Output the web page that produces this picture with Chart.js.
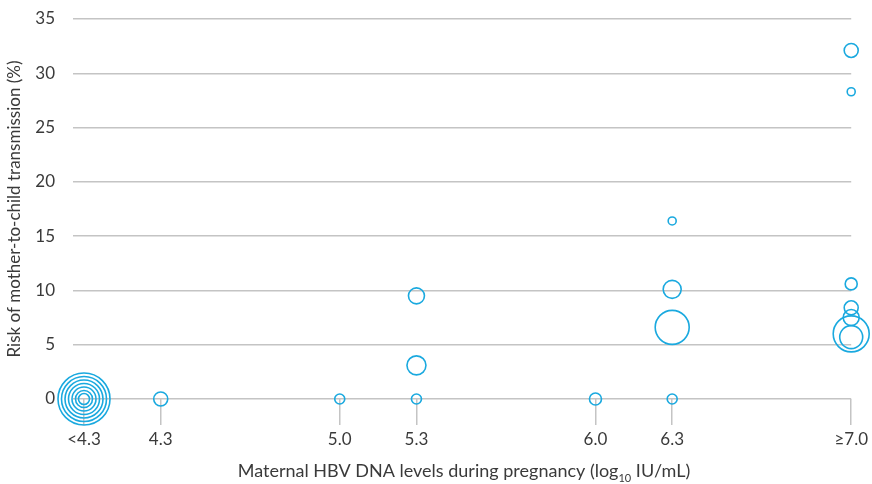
<!DOCTYPE html>
<html>
<head>
<meta charset="utf-8">
<script src="https://cdn.jsdelivr.net/npm/chart.js@4/dist/chart.umd.min.js"></script>
<style>
  html, body { margin: 0; padding: 0; background: #fff; }
  #wrap { width: 872px; height: 484px; }
</style>
</head>
<body>
<div id="wrap"><canvas id="chart-mtct"></canvas></div>
<script>
// Ejes
const xTicks = [4.0, 4.3, 5.0, 5.3, 6.0, 6.3, 7.0];
const xTickLabels = ['<4.3', '4.3', '5.0', '5.3', '6.0', '6.3', '≥7.0'];
const yTicks = [0, 5, 10, 15, 20, 25, 30, 35];

// Estudios: nivel de ADN del VHB, riesgo (%) y tamaño de burbuja
const hbvLevel = [4.0, 4.0, 4.0, 4.0, 4.0, 4.0, 4.0,
                  4.3,
                  5.0,
                  5.3, 5.3, 5.3,
                  6.0,
                  6.3, 6.3, 6.3, 6.3,
                  7.0, 7.0, 7.0, 7.0, 7.0, 7.0, 7.0];
const riskPct = [0, 0, 0, 0, 0, 0, 0,
                 0,
                 0,
                 9.5, 3.1, 0,
                 0,
                 16.4, 10.1, 6.6, 0,
                 32.1, 28.3, 10.6, 8.4, 7.5, 6.0, 5.7];
const studySize = [26, 22.5, 19, 15.5, 12, 8.5, 5.5,
                   7,
                   5,
                   8, 9.5, 5,
                   6,
                   4, 9, 17, 5,
                   7, 4, 6, 7, 8, 18, 11.5];

const blue = '#1aa9df';
const gridGray = '#c4c4c4';
const textGray = '#3a3a3a';
const fontFamily = 'Lato, "Open Sans", sans-serif';

// Titulo del eje x con subindice
const xTitlePlugin = {
    id: 'xTitle',
    afterDraw(chart) {
        const ctx = chart.ctx;
        const parts = [
            { t: 'Maternal HBV DNA levels during pregnancy (log', size: 18, dy: 0 },
            { t: '10', size: 11, dy: 5 },
            { t: ' IU/mL)', size: 18, dy: 0 }
        ];
        ctx.save();
        ctx.fillStyle = textGray;
        ctx.textBaseline = 'alphabetic';
        ctx.textAlign = 'left';
        let total = 0;
        parts.forEach(p => {
            ctx.font = p.size + 'px ' + fontFamily;
            p.w = ctx.measureText(p.t).width;
            total += p.w;
        });
        let x = 464 - total / 2;
        const y = 477;
        parts.forEach(p => {
            ctx.font = p.size + 'px ' + fontFamily;
            ctx.fillText(p.t, x, y + p.dy);
            x += p.w;
        });
        ctx.restore();
    }
};

const ctx = document.getElementById('chart-mtct').getContext('2d');
new Chart(ctx, {
    type: 'bubble',
    data: {
        datasets: [{
            label: 'Risk',
            data: hbvLevel.map((x, i) => ({ x: x, y: riskPct[i], r: studySize[i] })),
            backgroundColor: 'rgba(0,0,0,0)',
            borderColor: blue,
            borderWidth: 1.6,
            hoverRadius: 0,
            clip: false
        }]
    },
    options: {
        responsive: true,
        maintainAspectRatio: false,
        animation: false,
        layout: { autoPadding: false, padding: { top: 19, right: 20, left: 0, bottom: 0 } },
        plugins: {
            legend: { display: false },
            tooltip: { enabled: false }
        },
        scales: {
            x: {
                type: 'linear',
                min: 4.0,
                max: 7.0,
                afterBuildTicks: axis => {
                    axis.ticks = xTicks.map(v => ({ value: v }));
                },
                afterFit: axis => { axis.height = 85; },
                border: { display: false },
                grid: {
                    drawOnChartArea: false,
                    drawTicks: true,
                    tickLength: 26,
                    color: gridGray,
                    lineWidth: 1.5
                },
                ticks: {
                    autoSkip: false,
                    maxRotation: 0,
                    padding: 4,
                    color: textGray,
                    font: { family: fontFamily, size: 17 },
                    callback: value => {
                        const i = xTicks.findIndex(t => Math.abs(t - value) < 1e-6);
                        return i >= 0 ? xTickLabels[i] : '';
                    }
                }
            },
            y: {
                min: 0,
                max: 35,
                afterBuildTicks: axis => {
                    axis.ticks = yTicks.map(v => ({ value: v }));
                },
                afterFit: axis => {
                    axis.width = 84;
                    axis.paddingTop = 0;
                    axis.paddingBottom = 0;
                },
                border: { display: false },
                grid: {
                    color: gridGray,
                    lineWidth: 1.5,
                    drawTicks: true,
                    tickLength: 11
                },
                ticks: {
                    padding: 18,
                    color: textGray,
                    font: { family: fontFamily, size: 17 }
                },
                title: {
                    display: true,
                    text: 'Risk of mother-to-child transmission (%)',
                    color: textGray,
                    font: { family: fontFamily, size: 17 },
                    padding: { top: 4, bottom: 0 }
                }
            }
        }
    },
    plugins: [xTitlePlugin]
});
</script>
</body>
</html>
